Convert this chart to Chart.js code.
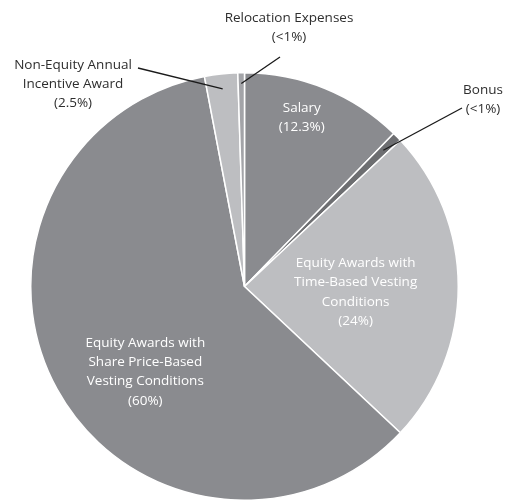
<!DOCTYPE html>
<html>
<head>
<meta charset="utf-8">
<script src="https://cdn.jsdelivr.net/npm/chart.js"></script>
<style>
  html, body { margin: 0; padding: 0; background: #fff; overflow: hidden; }
  #wrap { position: relative; width: 513px; height: 501px; }
</style>
</head>
<body>
<div id="wrap"><canvas id="c" width="513" height="501"></canvas></div>
<script>
const categories = [
  "Salary",
  "Bonus",
  "Equity Awards with Time-Based Vesting Conditions",
  "Equity Awards with Share Price-Based Vesting Conditions",
  "Non-Equity Annual Incentive Award",
  "Relocation Expenses"
];
const values = [12.3, 0.7, 24, 60, 2.5, 0.5];
const valueLabels = ["(12.3%)", "(<1%)", "(24%)", "(60%)", "(2.5%)", "(<1%)"];
const labelLines = [
  ["Salary"],
  ["Bonus"],
  ["Equity Awards with", "Time-Based Vesting", "Conditions"],
  ["Equity Awards with", "Share Price-Based", "Vesting Conditions"],
  ["Non-Equity Annual", "Incentive Award"],
  ["Relocation Expenses"]
];
const colors = ["#8a8b8f", "#6d6e71", "#bdbec1", "#8a8b8f", "#bdbec1", "#a3a4a8"];

// label placement: inside labels as offsets (fraction of radius) from pie center;
// outside labels at pixel positions with a leader line to the slice.
const placement = [
  { inside: true, dx: 0.268, dy: -0.79 },
  { inside: false, tx: 483, ty: 90, lx: 462, ly: 108, r: 0.91 },
  { inside: true, dx: 0.52, dy: 0.026 },
  { inside: true, dx: -0.464, dy: 0.40 },
  { inside: false, tx: 73, ty: 65, lx: 138, ly: 68, r: 0.93 },
  { inside: false, tx: 289, ty: 18, lx: 280, ly: 57, r: 0.95 }
];

const FONT = '13.5px "Open Sans", "DejaVu Sans", sans-serif';
const LH = 19.3;

const labelPlugin = {
  id: 'pieLabels',
  afterDatasetsDraw(chart) {
    const ctx = chart.ctx;
    const meta = chart.getDatasetMeta(0);
    ctx.save();
    ctx.font = FONT;
    ctx.textAlign = 'center';
    ctx.textBaseline = 'middle';
    meta.data.forEach((arc, i) => {
      const p = placement[i];
      const lines = labelLines[i].concat([valueLabels[i]]);
      const R = arc.outerRadius;
      if (p.inside) {
        ctx.fillStyle = '#ffffff';
        const cx = arc.x + p.dx * R;
        const cy = arc.y + p.dy * R;
        const y0 = cy - (lines.length - 1) * LH / 2;
        lines.forEach((t, k) => ctx.fillText(t, cx, y0 + k * LH));
      } else {
        const mid = (arc.startAngle + arc.endAngle) / 2;
        const ix = arc.x + Math.cos(mid) * R * p.r;
        const iy = arc.y + Math.sin(mid) * R * p.r;
        ctx.strokeStyle = '#1a1a1a';
        ctx.lineWidth = 1.3;
        ctx.beginPath();
        ctx.moveTo(p.lx, p.ly);
        ctx.lineTo(ix, iy);
        ctx.stroke();
        ctx.fillStyle = '#2e2e2e';
        lines.forEach((t, k) => ctx.fillText(t, p.tx, p.ty + k * LH));
      }
    });
    ctx.restore();
  }
};

new Chart(document.getElementById('c'), {
  type: 'pie',
  data: {
    labels: categories,
    datasets: [{
      data: values,
      backgroundColor: colors,
      borderColor: '#ffffff',
      borderWidth: 1.5
    }]
  },
  options: {
    responsive: false,
    animation: false,
    layout: { padding: { top: 72, bottom: 0, left: 30, right: 54 } },
    plugins: { legend: { display: false }, tooltip: { enabled: false } }
  },
  plugins: [labelPlugin]
});
</script>
</body>
</html>
